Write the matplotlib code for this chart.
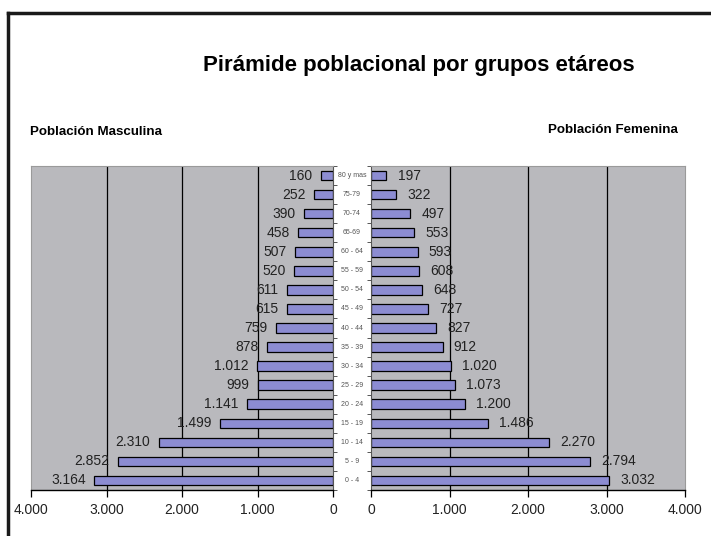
import matplotlib.pyplot as plt
from matplotlib.lines import Line2D
import numpy as np

plt.rcParams['font.family'] = ['Liberation Sans', 'DejaVu Sans']

groups = ['0 - 4', '5 - 9', '10 - 14', '15 - 19', '20 - 24', '25 - 29', '30 - 34',
          '35 - 39', '40 - 44', '45 - 49', '50 - 54', '55 - 59', '60 - 64',
          '65-69', '70-74', '75-79', '80 y mas']
male = [3164, 2852, 2310, 1499, 1141, 999, 1012, 878, 759, 615, 611, 520, 507,
        458, 390, 252, 160]
female = [3032, 2794, 2270, 1486, 1200, 1073, 1020, 912, 827, 727, 648, 608, 593,
          553, 497, 322, 197]
xticks = [0, 1000, 2000, 3000, 4000]

W, H = 711, 536
bg = '#b9b9bd'
bar_col = '#8c8cd2'
txt = '#222222'


def fmt(v):
    return f"{v:,}".replace(',', '.')


def pix_axes(fig, x0, x1, y0, y1):
    return fig.add_axes([x0 / W, 1 - y1 / H, (x1 - x0) / W, (y1 - y0) / H])


fig = plt.figure(figsize=(W / 100, H / 100), dpi=100)
fig.patch.set_facecolor('white')

# frame lines (left and top)
fig.add_artist(Line2D([8 / W, 8 / W], [0, 1 - 13 / H], color='#1a1a1a', lw=2.5))
fig.add_artist(Line2D([8 / W, 1], [1 - 13 / H, 1 - 13 / H], color='#1a1a1a', lw=2.5))

fig.text(419 / W, 1 - 66 / H, 'Pirámide poblacional por grupos etáreos',
         ha='center', va='center', fontsize=16, fontweight='bold')
fig.text(30 / W, 1 - 132 / H, 'Población Masculina', ha='left', va='center',
         fontsize=9.6, fontweight='bold')
fig.text(678 / W, 1 - 130 / H, 'Población Femenina', ha='right', va='center',
         fontsize=9.6, fontweight='bold')

y = np.arange(len(groups))
axL = pix_axes(fig, 31, 333, 166, 490)
axR = pix_axes(fig, 371, 685, 166, 490)

for ax, vals, side in [(axL, male, 'L'), (axR, female, 'R')]:
    ax.set_facecolor(bg)
    ax.set_xlim(4000, 0) if side == 'L' else ax.set_xlim(0, 4000)
    ax.set_ylim(-0.5, len(groups) - 0.5)
    for gx in [1000, 2000, 3000]:
        ax.axvline(gx, color='black', lw=0.9, zorder=1)
    ax.barh(y, vals, height=0.5, color=bar_col, edgecolor='black', lw=0.9, zorder=2)
    for yi, v in zip(y, vals):
        ax.annotate(fmt(v), (v, yi), xytext=(-6 if side == 'L' else 8, 0),
                    textcoords='offset points', ha='right' if side == 'L' else 'left',
                    va='center', fontsize=10, color=txt)
    ax.set_xticks(xticks)
    ax.set_xticklabels([fmt(t) for t in xticks], fontsize=10, color=txt)
    ax.tick_params(axis='x', length=5, width=0.9, pad=4)
    ax.set_yticks(np.arange(len(groups) + 1) - 0.5)
    ax.set_yticklabels([])
    for s in ['top', 'left', 'right']:
        ax.spines[s].set_color('#9a9a9a')
        ax.spines[s].set_linewidth(0.8)
    ax.spines['bottom'].set_color('black')
    ax.spines['bottom'].set_linewidth(1.0)

axL.yaxis.tick_right()
axL.spines['right'].set_color('#555555')
axL.tick_params(axis='y', length=3, width=0.7, direction='out', colors='#555555')
axR.spines['left'].set_color('#555555')
axR.tick_params(axis='y', length=3, width=0.7, direction='out', colors='#555555')

# age group labels in the centre column
for yi, g in zip(y, groups):
    ypix = 490 - (yi + 0.5) * (324 / len(groups))
    fig.text(352 / W, 1 - ypix / H, g, ha='center', va='center', fontsize=5,
             color='#555555')

fig.savefig('out.png', dpi=100)
